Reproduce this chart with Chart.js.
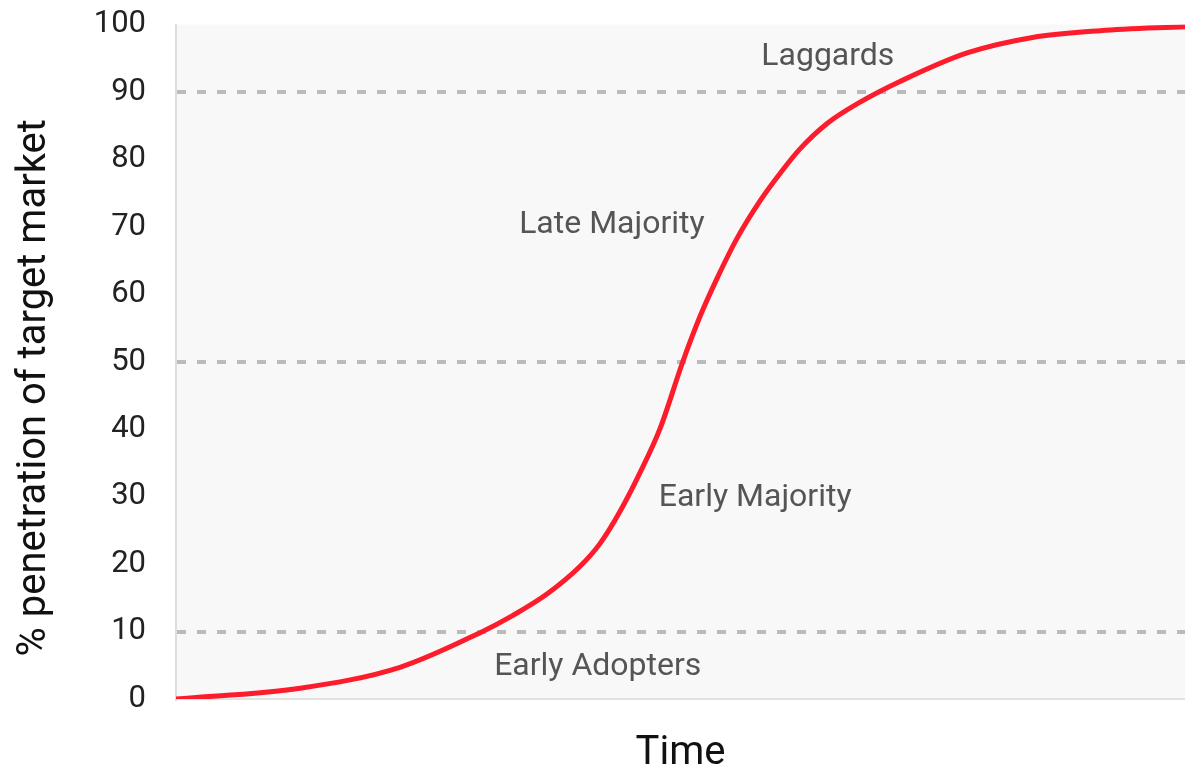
<!DOCTYPE html>
<html>
<head>
<meta charset="utf-8">
<script src="https://cdn.jsdelivr.net/npm/chart.js@4/dist/chart.umd.min.js"></script>
<style>
  html, body { margin: 0; padding: 0; background: #fff; }
  #wrap { width: 1185px; height: 768px; }
</style>
</head>
<body>
<div id="wrap"><canvas id="curve"></canvas></div>
<script>
// time (0-100) and % penetration
const timePoints = [0, 12.3, 22.2, 30.1, 33.4, 36.8, 40.0, 42.0, 44.0, 46.0, 48.0, 50.2, 51.9, 53.6, 55.6, 57.9, 59.9, 61.8, 64.5, 67.8, 71.8, 78.4, 84.9, 91.6, 100];
const penetration = [0, 1.6, 4.7, 9.8, 12.4, 15.6, 19.6, 23.0, 27.8, 33.6, 40.2, 49.9, 56.6, 62.3, 68.3, 73.9, 78.0, 81.5, 85.3, 88.5, 91.6, 95.8, 98.1, 99.1, 99.7];
const yTicks = [0, 10, 20, 30, 40, 50, 60, 70, 80, 90, 100];
const dashedLevels = [10, 50, 90];

const stageNames = ["Laggards", "Late Majority", "Early Majority", "Early Adopters"];
const stageTime = [64.6, 43.2, 57.4, 41.8];
const stageLevel = [95.2, 70.3, 29.8, 4.7];

const yTitle = "% penetration of target market";
const FONT = "Roboto, 'Noto Sans', sans-serif";

const bgPlugin = {
  id: "plotBg",
  beforeDraw(chart) {
    const { ctx, chartArea: a } = chart;
    ctx.save();
    ctx.fillStyle = "#f8f8f8";
    ctx.fillRect(a.left, a.top, a.right - a.left, a.bottom - a.top);
    ctx.restore();
  },
};

const labelPlugin = {
  id: "stageLabels",
  afterDatasetsDraw(chart) {
    const { ctx, scales, chartArea: a } = chart;
    ctx.save();
    ctx.font = "32px " + FONT;
    ctx.fillStyle = "#555";
    ctx.textAlign = "center";
    ctx.textBaseline = "middle";
    stageNames.forEach((name, i) => {
      ctx.fillText(name, scales.x.getPixelForValue(stageTime[i]), scales.y.getPixelForValue(stageLevel[i]));
    });

    // y axis title, sits a little below the middle of the plot
    ctx.translate(35, (a.top + a.bottom) / 2 + 26);
    ctx.rotate(-Math.PI / 2);
    ctx.font = "40px " + FONT;
    ctx.fillStyle = "#111";
    ctx.fillText(yTitle, 0, 0);
    ctx.restore();
  },
};

new Chart(document.getElementById("curve"), {
  type: "line",
  data: {
    datasets: [
      {
        data: timePoints.map((t, i) => ({ x: t, y: penetration[i] })),
        borderColor: "#fd1c2b",
        borderWidth: 5,
        pointRadius: 0,
        cubicInterpolationMode: "monotone",
        fill: false,
      },
    ],
  },
  options: {
    responsive: true,
    maintainAspectRatio: false,
    animation: false,
    layout: { padding: 0 },
    plugins: { legend: { display: false }, tooltip: { enabled: false } },
    scales: {
      x: {
        type: "linear",
        min: 0,
        max: 100,
        ticks: { display: false },
        grid: { display: false },
        border: { color: "#e2e2e2", width: 2 },
        title: {
          display: true,
          text: "Time",
          font: { family: FONT, size: 40 },
          color: "#111",
          padding: { top: 20, bottom: -10 },
        },
        afterFit: (s) => { s.height = 69; },
      },
      y: {
        min: 0,
        max: 100,
        afterBuildTicks: (s) => { s.ticks = yTicks.map((v) => ({ value: v })); },
        ticks: {
          font: { family: FONT, size: 31 },
          color: "#222",
          padding: 6,
        },
        grid: {
          drawTicks: true,
          tickLength: 24,
          tickColor: "rgba(0,0,0,0)",
          color: (c) => (dashedLevels.includes(c.tick && c.tick.value) ? "#bbbbbb" : "rgba(0,0,0,0)"),
          lineWidth: 4,
        },
        border: { color: "#dedede", width: 2, dash: [9, 11] },
        afterFit: (s) => { s.width = 176; },
      },
    },
  },
  plugins: [bgPlugin, labelPlugin],
});
</script>
</body>
</html>
